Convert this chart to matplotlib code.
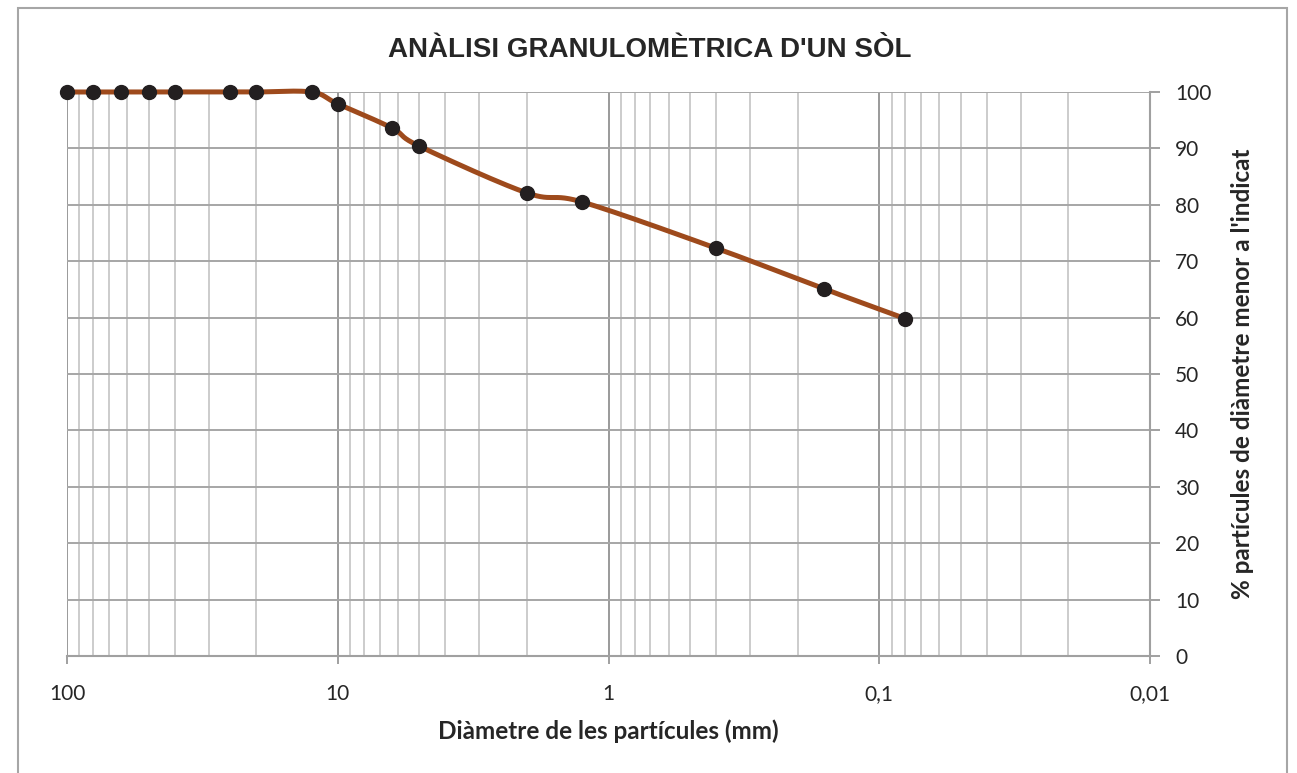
import numpy as np
import matplotlib
matplotlib.use("Agg")
import matplotlib.pyplot as plt
from matplotlib.ticker import FixedLocator, FuncFormatter, LogLocator, NullFormatter
from matplotlib.patches import Rectangle

# ---- data ----
diametre_mm = [100, 80, 63, 50, 40, 25, 20, 12.5, 10, 6.3, 5, 2, 1.25, 0.4, 0.16, 0.08]
percent_passa = [100, 100, 100, 100, 100, 100, 100, 100, 97.9, 93.6, 90.4, 82.1, 80.5, 72.3, 65.1, 59.8]
x_ticks = [100, 10, 1, 0.1, 0.01]
x_tick_labels = ["100", "10", "1", "0,1", "0,01"]
y_ticks = [0, 10, 20, 30, 40, 50, 60, 70, 80, 90, 100]

title = "ANÀLISI GRANULOMÈTRICA D'UN SÒL"
xlabel = "Diàmetre de les partícules (mm)"
ylabel = "% partícules de diàmetre menor a l'indicat"

W, H = 1297, 773
fig = plt.figure(figsize=(W / 100, H / 100), dpi=100)
ax = fig.add_axes([67 / W, 1 - 656 / H, (1150 - 67) / W, (656 - 92) / H])

# chart frame
fig.patches.append(Rectangle((18 / W, -0.05), (1287 - 18) / W, 1 - 8 / H + 0.05,
                             transform=fig.transFigure, fill=False,
                             edgecolor="#a6a6a6", linewidth=1.5, zorder=0))

ax.set_xscale("log")
ax.set_xlim(100, 0.01)
ax.set_ylim(0, 100)

# smoothed line (Excel-like bezier smoothing in screen-like space)
u = np.log10(np.array(diametre_mm, dtype=float)) * -270.75
v = np.array(percent_passa, dtype=float) * 5.64
P = np.column_stack([u, v])
n = len(P)
curve = []
t = np.linspace(0, 1, 30)
for i in range(n - 1):
    p0 = P[i]
    p3 = P[i + 1]
    prev = P[i - 1] if i > 0 else P[i]
    nxt = P[i + 2] if i + 2 < n else P[i + 1]
    c1 = p0 + (p3 - prev) / 6.0
    c2 = p3 - (nxt - p0) / 6.0
    seg = ((1 - t) ** 3)[:, None] * p0 + (3 * (1 - t) ** 2 * t)[:, None] * c1 \
        + (3 * (1 - t) * t ** 2)[:, None] * c2 + (t ** 3)[:, None] * p3
    curve.append(seg if i == 0 else seg[1:])
curve = np.vstack(curve)
cx = 10 ** (curve[:, 0] / -270.75)
cy = curve[:, 1] / 5.64

ax.plot(cx, cy, color="#9e4a1c", linewidth=3.6, zorder=3, clip_on=False,
        solid_capstyle="round")
ax.plot(diametre_mm, percent_passa, linestyle="none", marker="o", markersize=10,
        color="#231f20", zorder=4, clip_on=False)

# grid
ax.xaxis.set_major_locator(FixedLocator(x_ticks))
ax.xaxis.set_major_formatter(FuncFormatter(
    lambda val, pos: x_tick_labels[x_ticks.index(min(x_ticks, key=lambda k: abs(np.log10(k) - np.log10(val))))]))
ax.xaxis.set_minor_locator(LogLocator(base=10, subs=np.arange(2, 10), numticks=20))
ax.xaxis.set_minor_formatter(NullFormatter())
ax.set_yticks(y_ticks)

ax.grid(which="major", axis="x", color="#9a9a9a", linewidth=1.4, zorder=0)
ax.grid(which="minor", axis="x", color="#cccccc", linewidth=1.4, zorder=0)
ax.grid(which="major", axis="y", color="#a6a6a6", linewidth=1.4, zorder=0)
ax.set_axisbelow(True)

for s in ["top", "left"]:
    ax.spines[s].set_visible(False)
for s in ["bottom", "right"]:
    ax.spines[s].set_color("#a0a0a0")
    ax.spines[s].set_linewidth(1.5)

ax.yaxis.tick_right()
ax.yaxis.set_label_position("right")
ax.tick_params(axis="x", which="major", direction="out", length=6, width=1.4,
               color="#a0a0a0", pad=14, labelsize=15, labelcolor="#262626")
ax.tick_params(axis="x", which="minor", length=0)
ax.tick_params(axis="y", which="major", direction="out", length=7, width=1.4,
               color="#a0a0a0", pad=11, labelsize=15, labelcolor="#262626")
for lab in ax.get_xticklabels() + ax.get_yticklabels():
    lab.set_fontfamily("Lato")

ax.set_xlabel(xlabel, fontsize=17.5, fontweight="bold", family="Lato",
              color="#262626", labelpad=11)
ax.set_ylabel(ylabel, fontsize=17.5, fontweight="bold", family="Lato",
              color="#262626", labelpad=14, rotation=90)

fig.text(650 / W, 1 - 50 / H, title, ha="center", va="center", fontsize=20,
         fontweight="bold", family="Liberation Sans", color="#262626")

fig.savefig("out.png", dpi=100)
